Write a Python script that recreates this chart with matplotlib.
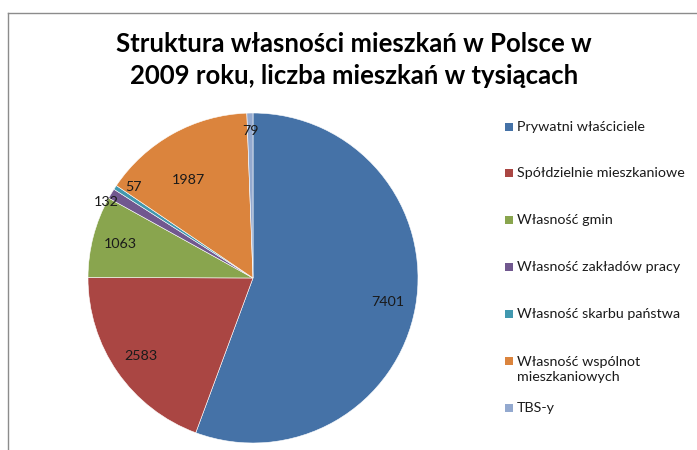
import matplotlib
matplotlib.use("Agg")
import matplotlib.pyplot as plt
from matplotlib.patches import Rectangle
from matplotlib.lines import Line2D
import numpy as np

plt.rcParams['font.family'] = ['Lato', 'DejaVu Sans']

categories = ["Prywatni właściciele", "Spółdzielnie mieszkaniowe", "Własność gmin",
              "Własność zakładów pracy", "Własność skarbu państwa",
              "Własność wspólnot\nmieszkaniowych", "TBS-y"]
values = [7401, 2583, 1063, 132, 57, 1987, 79]
colors = ["#4572A7", "#AA4643", "#89A54E", "#71588F", "#4198AF", "#DB843D", "#93A9CF"]
title = "Struktura własności mieszkań w Polsce w\n2009 roku, liczba mieszkań w tysiącach"

W, H = 697, 450
fig = plt.figure(figsize=(W / 100, H / 100), dpi=100)

# frame (top and left edges visible)
fig.add_artist(Line2D([8 / W, 8 / W], [0, 1 - 13 / H], color="#8c8c8c", lw=1.0))
fig.add_artist(Line2D([8 / W, 1], [1 - 13 / H, 1 - 13 / H], color="#8c8c8c", lw=1.0))

# pie axes
cx, cy, r = 253, 278, 165
ax = fig.add_axes([(cx - r) / W, (H - cy - r) / H, 2 * r / W, 2 * r / H])
wedges, _ = ax.pie(values, colors=colors, startangle=90, counterclock=False, radius=1.0,
                   wedgeprops=dict(edgecolor="white", linewidth=0.4))
ax.set_xlim(-1, 1)
ax.set_ylim(-1, 1)
ax.set_aspect("equal")
ax.axis("off")

# data labels
label_r = [0.83, 0.83, 0.83, 1.0, 0.91, 0.71, 0.89]
label_da = [0, 0, 0, 3.3, -4, 4.5, 0]
for w, v, lr, da in zip(wedges, values, label_r, label_da):
    ang = np.deg2rad((w.theta1 + w.theta2) / 2 + da)
    ax.text(lr * np.cos(ang), lr * np.sin(ang), str(v), ha="center", va="center",
            fontsize=10.3, color="#1a1a1a")

# title
fig.text(354 / W, 1 - 60 / H, title, ha="center", va="center", fontsize=18.5,
         fontweight="bold", linespacing=1.38, color="black")

# legend
rows = [127, 173, 220, 267, 314, 361, 408]
for lab, col, y in zip(categories, colors, rows):
    fig.add_artist(Rectangle((505 / W, 1 - (y + 4) / H), 8 / W, 8 / H,
                             transform=fig.transFigure, facecolor=col, edgecolor="none"))
    fig.text(517 / W, 1 - (y - 5) / H if "\n" in lab else 1 - y / H, lab, ha="left",
             va="top" if "\n" in lab else "center",
             fontsize=10.3, color="#1a1a1a", linespacing=1.3)

fig.savefig("out.png", dpi=100)
